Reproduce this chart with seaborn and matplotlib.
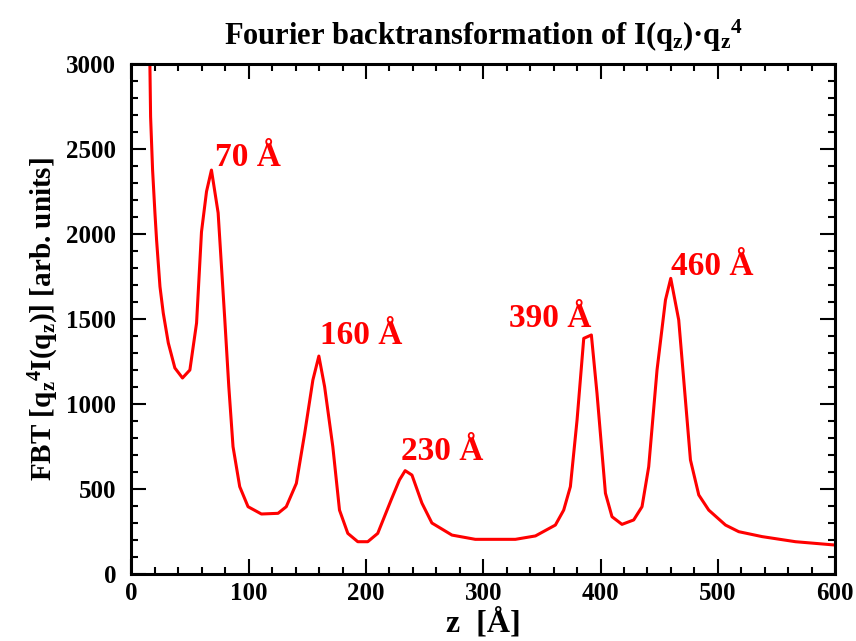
import matplotlib
matplotlib.use("Agg")
import matplotlib.pyplot as plt
import seaborn as sns
import pandas as pd
from matplotlib.ticker import MultipleLocator

# Curve: z in Angstrom, FBT in arb. units
z = [15.5, 16.3, 18.0, 20.0, 21.4, 24.3, 27.1, 31.4, 37.0, 43.5, 49.8, 55.5,
     59.7, 64.0, 68.2, 73.9, 79.6, 83.0, 86.6, 92.3, 99.4, 110.8, 125.0, 132.0,
     140.6, 147.7, 154.7, 159.8, 164.7, 171.7, 177.4, 184.5, 193.0, 201.5, 210.0,
     221.4, 228.5, 233.4, 239.2, 247.7, 256.2, 273.3, 293.2, 327.4, 344.5, 361.5,
     368.6, 374.3, 380.0, 385.7, 392.2, 397.0, 404.2, 409.8, 418.3, 428.3, 435.4,
     441.1, 448.2, 455.4, 459.9, 466.7, 476.7, 483.8, 492.3, 506.6, 517.9, 537.8,
     566.3, 599.0]
fbt = [3100, 2690, 2376, 2124, 1965, 1690, 1535, 1359, 1212, 1153, 1200, 1476,
       2012, 2250, 2376, 2124, 1494, 1102, 749, 514, 396, 353, 357, 396,
       533, 827, 1141, 1282, 1102, 749, 376, 239, 190, 190, 239,
       435, 553, 608, 582, 417, 300, 229, 204, 204, 224, 288,
       376, 514, 906, 1386, 1406, 1063, 475, 337, 292, 318, 396,
       631, 1200, 1612, 1739, 1494, 671, 465, 376, 288, 249, 220,
       190, 171]

peak_labels = ["70 Å", "160 Å", "230 Å", "390 Å", "460 Å"]
label_z = [71, 161, 230, 392, 460]
label_y = [2400, 1353, 671, 1455, 1759]
label_ha = ["left", "left", "left", "right", "left"]

df = pd.DataFrame({"z": z, "fbt": fbt})

sns.set_style("ticks")
plt.rcParams["font.family"] = ["Liberation Serif", "DejaVu Serif"]
plt.rcParams["font.weight"] = "bold"
plt.rcParams["text.color"] = "black"
plt.rcParams["axes.labelcolor"] = "black"
plt.rcParams["xtick.color"] = "black"
plt.rcParams["ytick.color"] = "black"
plt.rcParams["axes.edgecolor"] = "black"
plt.rcParams["mathtext.fontset"] = "custom"
plt.rcParams["mathtext.rm"] = "Liberation Serif:bold"
plt.rcParams["mathtext.it"] = "Liberation Serif:bold"
plt.rcParams["mathtext.bf"] = "Liberation Serif:bold"

fig = plt.figure(figsize=(8.56, 6.41), dpi=100)
ax = fig.add_axes([0.1536, 0.1045, 0.8219, 0.7957])

sns.lineplot(data=df, x="z", y="fbt", ax=ax, color="#ff0000", linewidth=2.2,
             sort=False)

for txt, lz, ly, ha in zip(peak_labels, label_z, label_y, label_ha):
    ax.text(lz, ly, txt, color="#ff0000", fontsize=24, fontweight="bold",
            ha=ha, va="baseline")

ax.set_xlim(0, 600)
ax.set_ylim(0, 3000)
ax.xaxis.set_major_locator(MultipleLocator(100))
ax.xaxis.set_minor_locator(MultipleLocator(20))
ax.yaxis.set_major_locator(MultipleLocator(500))
ax.yaxis.set_minor_locator(MultipleLocator(100))
ax.tick_params(which="both", direction="in", top=True, right=True,
               width=1.5, labelsize=18)
ax.tick_params(axis="y", pad=11)
ax.tick_params(axis="x", pad=6)
ax.tick_params(which="major", length=11)
ax.tick_params(which="minor", length=5)
for lab in ax.get_xticklabels() + ax.get_yticklabels():
    lab.set_fontweight("bold")
for sp in ax.spines.values():
    sp.set_linewidth(2.2)
    sp.set_visible(True)

ax.set_xlabel("z  [Å]", fontsize=23, fontweight="bold", labelpad=2)
ax.set_ylabel(r"FBT [q$_\mathrm{z}$$^\mathrm{4}$I(q$_\mathrm{z}$)] [arb. units]",
              fontsize=21, fontweight="bold", labelpad=4)
ax.set_title(r"Fourier backtransformation of I(q$_\mathrm{z}$)·q$_\mathrm{z}$$^\mathrm{4}$",
             fontsize=22, fontweight="bold", pad=14)

fig.savefig("out.png", dpi=100)
